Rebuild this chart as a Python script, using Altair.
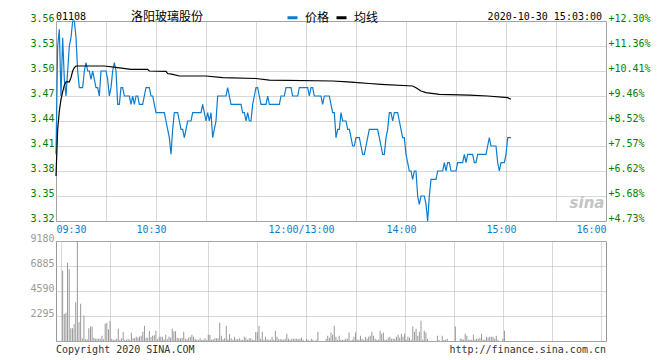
import altair as alt
import pandas as pd

# ---------------- data ----------------
PRICE = [
    3.40, 3.53, 3.55, 3.47, 3.54, 3.49, 3.47, 3.50, 3.53, 3.54,
    3.56, 3.56, 3.54, 3.50, 3.48, 3.48, 3.48, 3.50, 3.51, 3.50,
    3.50, 3.49, 3.50, 3.49, 3.48, 3.48, 3.47, 3.50, 3.50, 3.50,
    3.50, 3.49, 3.47, 3.48, 3.50, 3.51, 3.50, 3.46, 3.46, 3.48,
    3.48, 3.47, 3.47, 3.47, 3.47, 3.46, 3.47, 3.46, 3.47, 3.47,
    3.46, 3.46, 3.46, 3.47, 3.48, 3.48, 3.48, 3.47, 3.47, 3.46,
    3.45, 3.45, 3.45, 3.45, 3.45, 3.45, 3.44, 3.43, 3.42, 3.40,
    3.43, 3.45, 3.45, 3.45, 3.44, 3.43, 3.43, 3.42, 3.43, 3.44,
    3.44, 3.44, 3.45, 3.45, 3.45, 3.45, 3.45, 3.45, 3.46, 3.45,
    3.44, 3.45, 3.44, 3.45, 3.42, 3.43, 3.44, 3.47, 3.47, 3.47,
    3.47, 3.47, 3.47, 3.48, 3.47, 3.46, 3.46, 3.46, 3.46, 3.46,
    3.46, 3.46, 3.45, 3.45, 3.44, 3.45, 3.44, 3.44, 3.46, 3.47,
    3.48, 3.48, 3.47, 3.46, 3.46, 3.46, 3.46, 3.47, 3.46, 3.46,
    3.46, 3.46, 3.46, 3.46, 3.46, 3.47, 3.47, 3.47, 3.48, 3.48,
    3.48, 3.48, 3.47, 3.47, 3.47, 3.47, 3.48, 3.48, 3.48, 3.48,
    3.48, 3.48, 3.47, 3.48, 3.48, 3.47, 3.47, 3.47, 3.47, 3.47,
    3.46, 3.47, 3.47, 3.47, 3.47, 3.46, 3.45, 3.45, 3.42, 3.43,
    3.43, 3.45, 3.44, 3.44, 3.44, 3.43, 3.43, 3.42, 3.41, 3.41,
    3.42, 3.42, 3.42, 3.41, 3.40, 3.40, 3.41, 3.42, 3.43, 3.43,
    3.43, 3.43, 3.43, 3.43, 3.42, 3.41, 3.40, 3.40, 3.42, 3.43,
    3.45, 3.45, 3.44, 3.45, 3.45, 3.45, 3.44, 3.43, 3.42, 3.42,
    3.40, 3.39, 3.38, 3.38, 3.37, 3.38, 3.38, 3.35, 3.34, 3.35,
    3.35, 3.35, 3.34, 3.32, 3.35, 3.37, 3.37, 3.37, 3.37, 3.38,
    3.38, 3.38, 3.38, 3.39, 3.38, 3.39, 3.39, 3.38, 3.38, 3.38,
    3.38, 3.39, 3.39, 3.39, 3.39, 3.40, 3.39, 3.40, 3.40, 3.40,
    3.40, 3.39, 3.39, 3.40, 3.40, 3.40, 3.40, 3.40, 3.40, 3.41,
    3.42, 3.41, 3.41, 3.41, 3.41, 3.39, 3.38, 3.39, 3.39, 3.39,
    3.40, 3.42, 3.42, 3.42,
]

VOLUME = [
    0, 6460, 2480, 2600, 7190, 6580, 1160, 1160, 1530, 3550,
    9180, 1710, 3430, 250, 2330, 150, 150, 1160, 1320, 1320,
    300, 210, 210, 210, 210, 490, 150, 1590, 1680, 1070,
    1840, 210, 120, 120, 210, 1130, 120, 250, 830, 120,
    120, 200, 120, 760, 250, 250, 400, 300, 400, 490,
    860, 1410, 300, 300, 920, 370, 490, 520, 950, 150,
    400, 400, 400, 150, 580, 150, 400, 300, 1130, 890,
    890, 300, 250, 250, 300, 860, 210, 150, 300, 400,
    580, 400, 210, 120, 120, 250, 120, 120, 250, 120,
    580, 580, 120, 150, 250, 250, 250, 1680, 490, 150,
    250, 1410, 150, 640, 250, 120, 400, 150, 150, 250,
    120, 120, 400, 300, 120, 250, 250, 120, 120, 830,
    830, 1410, 210, 860, 120, 400, 150, 120, 120, 400,
    120, 950, 400, 150, 150, 150, 120, 210, 670, 210,
    120, 210, 210, 210, 210, 150, 210, 300, 120, 0,
    210, 120, 0, 210, 120, 0, 120, 860, 0, 0,
    0, 0, 210, 490, 300, 770, 580, 1410, 400, 120,
    490, 120, 120, 120, 210, 210, 770, 50, 120, 400,
    770, 120, 120, 490, 210, 120, 400, 210, 400, 490,
    860, 490, 210, 120, 120, 950, 670, 770, 120, 120,
    300, 400, 210, 210, 210, 400, 580, 300, 670, 400,
    670, 120, 400, 300, 120, 1320, 860, 1130, 490, 860,
    1870, 120, 950, 770, 210, 0, 0, 0, 0, 0,
    490, 120, 0, 490, 120, 120, 210, 0, 0, 0,
    0, 1320, 0, 0, 210, 210, 120, 670, 490, 120,
    120, 120, 580, 120, 210, 210, 300, 670, 120, 120,
    400, 300, 400, 400, 400, 210, 490, 120, 0, 0,
    210, 950, 0, 0,
]

AVG_T = [0, 1, 2, 3, 4, 5, 6, 8, 9, 10, 11, 12, 29, 37, 45, 55, 56, 66, 67, 70,
         74, 90, 100, 120, 128, 166, 175, 181, 188, 195, 214, 216, 219, 222, 230,
         248, 259, 271, 273]
AVG_V = [3.374, 3.430, 3.452, 3.466, 3.475, 3.483, 3.487, 3.487, 3.492, 3.500,
         3.504, 3.506, 3.506, 3.504, 3.502, 3.502, 3.500, 3.4996, 3.497, 3.496,
         3.494, 3.494, 3.492, 3.491, 3.489, 3.488, 3.487, 3.486, 3.485, 3.484,
         3.482, 3.480, 3.476, 3.474, 3.472, 3.471, 3.470, 3.468, 3.466]

SERIES = ["价格", "均线"]
GRID_T = [0, 30, 60, 90, 120, 150, 180, 210, 240, 270, 300, 330]
TIME_TICKS = [0, 60, 150, 210, 270, 330]
TIME_LABELS = ["09:30", "10:30", "12:00/13:00", "14:00", "15:00", "16:00"]
PRICE_TICKS = [3.32, 3.35, 3.38, 3.41, 3.44, 3.47, 3.50, 3.53, 3.56]
PRICE_KEYS = ["3.32", "3.35", "3.38", "3.41", "3.44", "3.47", "3.50", "3.53", "3.56"]
PCT_LABELS = ["+4.73%", "+5.68%", "+6.62%", "+7.57%", "+8.52%", "+9.46%",
              "+10.41%", "+11.36%", "+12.30%"]
VOL_TICKS = [0, 2295, 4590, 6885, 9180]

CODE = "01108"
NAME = "洛阳玻璃股份"
STAMP = "2020-10-30 15:03:00"
COPYRIGHT = "Copyright 2020 SINA.COM"
URL = "http://finance.sina.com.cn"

# ---------------- style ----------------
BLUE = "#0a7dd0"
GREEN = "#008000"
GRAY = "#999999"
GRID = "#b0b0b0"
MONO = "DejaVu Sans Mono"
CJK = "Noto Sans CJK SC"
HEAD_Y = -4

minutes = list(range(len(PRICE)))
price_df = pd.DataFrame({"t": minutes, "v": PRICE, "s": SERIES[0]})
avg_df = pd.DataFrame({"t": AVG_T, "v": AVG_V, "s": SERIES[1]})
lines_df = pd.concat([price_df, avg_df], ignore_index=True)
vol_df = pd.DataFrame({"t": minutes, "vol": VOLUME})
vol_df = vol_df[vol_df["vol"] > 0]

x_scale = alt.Scale(domain=[0, 330], nice=False, zero=False)
y_price = alt.Scale(domain=[3.32, 3.56], nice=False, zero=False)

tick_arr = "[" + ",".join(str(t) for t in TIME_TICKS) + "]"
lab_arr = "[" + ",".join(f"'{s}'" for s in TIME_LABELS) + "]"
time_expr = f"indexof({tick_arr}, datum.value) >= 0 ? {lab_arr}[indexof({tick_arr}, datum.value)] : ''"
key_arr = "[" + ",".join(f"'{s}'" for s in PRICE_KEYS) + "]"
pct_arr = "[" + ",".join(f"'{s}'" for s in PCT_LABELS) + "]"
pct_expr = f"{pct_arr}[indexof({key_arr}, format(datum.value, '.2f'))]"

common_axis = dict(grid=True, gridColor=GRID, gridDash=[1, 1], gridWidth=1,
                   domain=False, ticks=False, title=None)

time_x = alt.X("t:Q", scale=x_scale,
               axis=alt.Axis(values=GRID_T, labelExpr=time_expr, labelColor=BLUE,
                             labelFont=MONO, labelFontSize=10, labelPadding=3,
                             labelFlush=True, labelOverlap=False,
                             labelOffset={"condition": {"test": "datum.value > 0 && datum.value < 330", "value": -5}, "value": 0},
                             **common_axis))

lines = alt.Chart(lines_df).mark_line(strokeWidth=1.2).encode(
    x=time_x,
    y=alt.Y("v:Q", scale=y_price,
            axis=alt.Axis(values=PRICE_TICKS, format=".2f", labelColor=GREEN,
                          labelFont=MONO, labelFontSize=10, labelPadding=2,
                          labelFlush=False, labelOffset=-3, orient="left",
                          **common_axis)),
    color=alt.Color("s:N", scale=alt.Scale(domain=SERIES, range=[BLUE, "#000000"]),
                    legend=alt.Legend(orient="none", legendX=230, legendY=HEAD_Y - 6,
                                      direction="horizontal", title=None,
                                      symbolType="stroke", symbolStrokeWidth=3,
                                      symbolSize=100, labelFont=CJK, labelFontSize=12,
                                      labelColor="#000000", columnPadding=0,
                                      labelOffset=6, padding=0)),
)

right_axis = alt.Chart(price_df).mark_line(opacity=0).encode(
    x=time_x,
    y=alt.Y("v:Q", scale=y_price,
            axis=alt.Axis(orient="right", values=PRICE_TICKS, labelExpr=pct_expr,
                          labelColor=GREEN, labelFont=MONO, labelFontSize=10,
                          labelPadding=2, labelFlush=False, labelOffset=-3,
                          grid=False, domain=False, ticks=False, title=None)),
)

def label(text, x, y, align="left", font=MONO, size=10, color="#000000", **kw):
    return alt.Chart(pd.DataFrame({"txt": [text]})).mark_text(
        align=align, baseline="middle", font=font, fontSize=size, color=color, **kw
    ).encode(text="txt:N", x=alt.value(x), y=alt.value(y))

header = (label(CODE, 0, HEAD_Y)
          + label(NAME, 111, HEAD_Y, align="center", font=CJK, size=12)
          + label(STAMP, 546, HEAD_Y, align="right"))
watermark = label("sina", 531, 182, align="center", font="DejaVu Sans", size=15,
                  color="#c4c4c4", fontStyle="italic", fontWeight="bold")

price_panel = alt.layer(lines, right_axis, header, watermark).resolve_axis(
    y="independent").properties(width=550, height=200)

bars = alt.Chart(vol_df).mark_bar(size=1, color=GRAY).encode(
    x=alt.X("t:Q", scale=x_scale,
            axis=alt.Axis(values=GRID_T, labels=False, **common_axis)),
    y=alt.Y("vol:Q", scale=alt.Scale(domain=[0, 9180], nice=False),
            axis=alt.Axis(values=VOL_TICKS, labelExpr="datum.value > 0 ? datum.label : ''",
                          format="d", labelColor=GRAY, labelFont=MONO, labelFontSize=10,
                          labelPadding=2, labelFlush=False, labelOffset=-3,
                          **common_axis)),
)
footer = (label(COPYRIGHT, 0, 109, color="#333333")
          + label(URL, 550, 109, align="right", color="#333333"))
vol_panel = alt.layer(bars, footer).properties(width=550, height=100)

chart = alt.vconcat(price_panel, vol_panel, spacing=20, bounds="flush").properties(
    padding={"left": 21, "top": 2, "right": 0, "bottom": 0}
).configure_view(stroke=GRAY, strokeWidth=1)

chart.save("out.html", embed_options={"renderer": "svg", "actions": False})
